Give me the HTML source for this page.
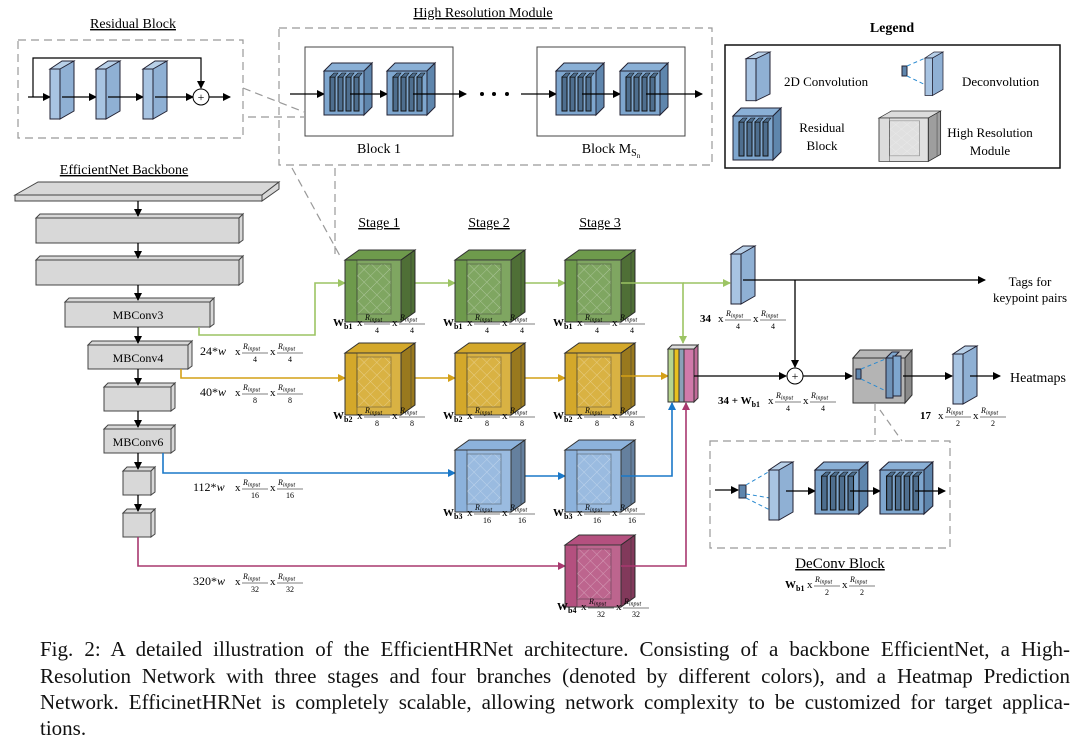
<!DOCTYPE html>
<html><head><meta charset="utf-8"><style>
body{margin:0;background:#fff;width:1080px;height:745px;overflow:hidden;position:relative;font-family:"Liberation Serif",serif}
svg{position:absolute;left:0;top:0}
svg text{font-family:"Liberation Serif",serif}
.cap{position:absolute;left:40px;width:1030px;font-size:21px;line-height:26px;color:#111;white-space:nowrap}
.j{text-align:justify;text-align-last:justify}
.d{font-size:8px;text-anchor:middle}
.b{font-weight:bold;font-size:11px}
</style></head><body>
<svg width="1080" height="640" viewBox="0 0 1080 640">
<defs>
<marker id="ak" markerWidth="8" markerHeight="8" refX="7" refY="4" orient="auto" markerUnits="userSpaceOnUse"><path d="M0,0L8,4L0,8z" fill="#000"/></marker>
<marker id="ag" markerWidth="8" markerHeight="8" refX="7" refY="4" orient="auto" markerUnits="userSpaceOnUse"><path d="M0,0L8,4L0,8z" fill="#9cc463"/></marker>
<marker id="ay" markerWidth="8" markerHeight="8" refX="7" refY="4" orient="auto" markerUnits="userSpaceOnUse"><path d="M0,0L8,4L0,8z" fill="#d4a017"/></marker>
<marker id="ab" markerWidth="8" markerHeight="8" refX="7" refY="4" orient="auto" markerUnits="userSpaceOnUse"><path d="M0,0L8,4L0,8z" fill="#1a78c8"/></marker>
<marker id="ap" markerWidth="8" markerHeight="8" refX="7" refY="4" orient="auto" markerUnits="userSpaceOnUse"><path d="M0,0L8,4L0,8z" fill="#a8386f"/></marker>
<pattern id="hatch" width="9" height="9" patternUnits="userSpaceOnUse" patternTransform="rotate(45)"><path d="M0,0H9M0,0V9" stroke="#fff" stroke-opacity=".35" stroke-width="1"/></pattern>
<g id="cube">
 <polygon points="0,10 14,0 70,0 56,10" fill="currentColor" stroke="#333" stroke-width="1"/>
 <polygon points="56,10 70,0 70,62 56,72" fill="currentColor" stroke="#333" stroke-width="1"/>
 <polygon points="56,10 70,0 70,62 56,72" fill="#000" fill-opacity=".28"/>
 <rect x="0" y="10" width="56" height="62" fill="currentColor" stroke="#333" stroke-width="1"/>
 <rect x="12" y="10" width="44" height="62" fill="#fff" fill-opacity=".12" stroke="#333" stroke-opacity=".5"/>
 <rect x="12" y="14" width="34" height="50" fill="url(#hatch)" stroke="#333" stroke-opacity=".4"/>
 <line x1="66" y1="3" x2="66" y2="64" stroke="#333" stroke-opacity=".5"/>
</g>
<g id="conv">
 <polygon points="0,8 12,0 24,0 12,8" fill="#b8d0e8" stroke="#223" stroke-width="1"/>
 <polygon points="10,8 24,0 24,50 10,58" fill="#8fb0d4" stroke="#223" stroke-width="1"/>
 <rect x="0" y="8" width="10" height="50" fill="#a8c4e2" stroke="#223" stroke-width="1"/>
</g>
<g id="res">
 <polygon points="0,8 8,0 48,0 40,8" fill="#8ab0d6" stroke="#223"/>
 <polygon points="40,8 48,0 48,44 40,52" fill="#5f86ad" stroke="#223"/>
 <rect x="0" y="8" width="40" height="44" fill="#7ea6ce" stroke="#223"/>
 <rect x="6" y="14" width="5" height="34" fill="#4e6e8e" stroke="#111"/>
 <rect x="14" y="14" width="5" height="34" fill="#4e6e8e" stroke="#111"/>
 <rect x="22" y="14" width="5" height="34" fill="#4e6e8e" stroke="#111"/>
 <rect x="30" y="14" width="5" height="34" fill="#4e6e8e" stroke="#111"/>
 <polygon points="6,14 10,10 14,10 11,14" fill="#4e6e8e" stroke="#111" stroke-width=".6"/>
 <polygon points="14,14 18,10 22,10 19,14" fill="#4e6e8e" stroke="#111" stroke-width=".6"/>
 <polygon points="22,14 26,10 30,10 27,14" fill="#4e6e8e" stroke="#111" stroke-width=".6"/>
 <polygon points="30,14 34,10 38,10 35,14" fill="#4e6e8e" stroke="#111" stroke-width=".6"/>
</g>
<g id="rin"><text x="1" y="-3" font-size="8" font-style="italic">R<tspan font-size="6" dy="1.5">input</tspan></text><line x1="0" x2="26" y1="1" y2="1" stroke="#000" stroke-width=".6"/></g>
<g id="f4" font-size="11"><text x="0" y="3">x</text><use href="#rin" x="7"/><text x="20" y="10" class="d">4</text><text x="35" y="3">x</text><use href="#rin" x="42"/><text x="55" y="10" class="d">4</text></g>
<g id="f8" font-size="11"><text x="0" y="3">x</text><use href="#rin" x="7"/><text x="20" y="10" class="d">8</text><text x="35" y="3">x</text><use href="#rin" x="42"/><text x="55" y="10" class="d">8</text></g>
<g id="f16" font-size="11"><text x="0" y="3">x</text><use href="#rin" x="7"/><text x="20" y="10" class="d">16</text><text x="35" y="3">x</text><use href="#rin" x="42"/><text x="55" y="10" class="d">16</text></g>
<g id="f32" font-size="11"><text x="0" y="3">x</text><use href="#rin" x="7"/><text x="20" y="10" class="d">32</text><text x="35" y="3">x</text><use href="#rin" x="42"/><text x="55" y="10" class="d">32</text></g>
<g id="f2" font-size="11"><text x="0" y="3">x</text><use href="#rin" x="7"/><text x="20" y="10" class="d">2</text><text x="35" y="3">x</text><use href="#rin" x="42"/><text x="55" y="10" class="d">2</text></g>
</defs>

<!-- Residual block -->
<text x="133" y="28" font-size="14" text-anchor="middle" text-decoration="underline">Residual Block</text>
<rect x="18" y="40" width="225" height="98" fill="none" stroke="#999" stroke-dasharray="8,5" stroke-width="1.2"/>
<path d="M33,97V58H201V88" fill="none" stroke="#000" stroke-width="1.2" marker-end="url(#ak)"/>
<line x1="28" y1="97" x2="50" y2="97" stroke="#000" stroke-width="1.3" marker-end="url(#ak)"/>
<use href="#conv" x="50" y="61"/>
<line x1="62" y1="97" x2="96" y2="97" stroke="#000" stroke-width="1.3" marker-end="url(#ak)"/>
<use href="#conv" x="96" y="61"/>
<line x1="108" y1="97" x2="143" y2="97" stroke="#000" stroke-width="1.3" marker-end="url(#ak)"/>
<use href="#conv" x="143" y="61"/>
<line x1="155" y1="97" x2="193" y2="97" stroke="#000" stroke-width="1.3" marker-end="url(#ak)"/>
<circle cx="201" cy="97" r="8" fill="#fff" stroke="#000"/><text x="201" y="101" font-size="12" text-anchor="middle">+</text>
<line x1="209" y1="97" x2="230" y2="97" stroke="#000" stroke-width="1.3" marker-end="url(#ak)"/>
<path d="M243,88L304,112M248,117H304" stroke="#999" stroke-dasharray="8,5" stroke-width="1.2"/>

<!-- HR module -->
<text x="483" y="17" font-size="14" text-anchor="middle" text-decoration="underline">High Resolution Module</text>
<rect x="279" y="28" width="433" height="137" fill="none" stroke="#999" stroke-dasharray="8,5" stroke-width="1.2"/>
<rect x="305" y="47" width="148" height="89" fill="#fff" stroke="#444"/>
<rect x="537" y="47" width="148" height="89" fill="#fff" stroke="#444"/>
<text x="379" y="153" font-size="14" text-anchor="middle">Block 1</text>
<text x="611" y="153" font-size="14" text-anchor="middle">Block M<tspan font-size="10" dy="3">S</tspan><tspan font-size="7" dy="2">n</tspan></text>
<line x1="290" y1="94" x2="324" y2="94" stroke="#000" stroke-width="1.3" marker-end="url(#ak)"/>
<use href="#res" x="324" y="63"/>
<line x1="350" y1="94" x2="387" y2="94" stroke="#000" stroke-width="1.3" marker-end="url(#ak)"/>
<use href="#res" x="387" y="63"/>
<line x1="413" y1="94" x2="466" y2="94" stroke="#000" stroke-width="1.3" marker-end="url(#ak)"/>
<circle cx="482" cy="94" r="2" fill="#000"/><circle cx="494" cy="94" r="2" fill="#000"/><circle cx="507" cy="94" r="2" fill="#000"/>
<line x1="521" y1="94" x2="556" y2="94" stroke="#000" stroke-width="1.3" marker-end="url(#ak)"/>
<use href="#res" x="556" y="63"/>
<line x1="582" y1="94" x2="620" y2="94" stroke="#000" stroke-width="1.3" marker-end="url(#ak)"/>
<use href="#res" x="620" y="63"/>
<line x1="646" y1="94" x2="702" y2="94" stroke="#000" stroke-width="1.3" marker-end="url(#ak)"/>
<path d="M292,168L340,256M335,168V255" stroke="#999" stroke-dasharray="8,5" stroke-width="1.2" fill="none"/>

<!-- Legend -->
<text x="892" y="32" font-size="14" font-weight="bold" text-anchor="middle">Legend</text>
<rect x="725" y="45" width="335" height="123" fill="#fff" stroke="#111" stroke-width="1.5"/>
<g transform="translate(746,52) scale(1,0.84)"><use href="#conv"/></g>
<text x="784" y="86" font-size="13">2D Convolution</text>
<rect x="902" y="66" width="5" height="10" fill="#5f86ad" stroke="#223"/>
<path d="M907,66L930,56M907,76L932,88" stroke="#2a8ad0" stroke-dasharray="4,3"/>
<g transform="translate(925,52) scale(0.75,0.75)"><use href="#conv"/></g>
<text x="962" y="86" font-size="13">Deconvolution</text>
<g transform="translate(733,108)"><use href="#res"/></g>
<text x="822" y="132" font-size="13" text-anchor="middle">Residual</text>
<text x="822" y="150" font-size="13" text-anchor="middle">Block</text>
<g transform="translate(879,111) scale(0.88,0.7)" style="color:#dcdcdc"><use href="#cube"/></g>
<text x="990" y="137" font-size="13" text-anchor="middle">High Resolution</text>
<text x="990" y="155" font-size="13" text-anchor="middle">Module</text>

<!-- Backbone -->
<text x="124" y="174" font-size="14" text-anchor="middle" text-decoration="underline">EfficientNet Backbone</text>
<g fill="#d8d8d8" stroke="#444" stroke-width="1">
<polygon points="15,195 38,182 279,182 262,195"/>
<polygon points="262,195 279,182 279,189 262,201"/>
<rect x="15" y="195" width="247" height="6"/>
<polygon points="36,218 40,214 243,214 239,218"/><rect x="36" y="218" width="203" height="25"/><polygon points="239,218 243,214 243,240 239,243"/>
<polygon points="36,260 40,256 243,256 239,260"/><rect x="36" y="260" width="203" height="25"/><polygon points="239,260 243,256 243,282 239,285"/>
<polygon points="65,302 69,298 214,298 210,302"/><rect x="65" y="302" width="145" height="25"/><polygon points="210,302 214,298 214,324 210,327"/>
<polygon points="88,345 92,341 192,341 188,345"/><rect x="88" y="345" width="100" height="24"/><polygon points="188,345 192,341 192,366 188,369"/>
<polygon points="104,387 108,383 175,383 171,387"/><rect x="104" y="387" width="67" height="24"/><polygon points="171,387 175,383 175,408 171,411"/>
<polygon points="104,429 108,425 175,425 171,429"/><rect x="104" y="429" width="67" height="24"/><polygon points="171,429 175,425 175,450 171,453"/>
<polygon points="123,471 127,467 155,467 151,471"/><rect x="123" y="471" width="28" height="24"/><polygon points="151,471 155,467 155,492 151,495"/>
<polygon points="123,513 127,509 155,509 151,513"/><rect x="123" y="513" width="28" height="24"/><polygon points="151,513 155,509 155,534 151,537"/>
</g>
<text x="138" y="319" font-size="12" text-anchor="middle">MBConv3</text>
<text x="138" y="362" font-size="12" text-anchor="middle">MBConv4</text>
<text x="138" y="446" font-size="12" text-anchor="middle">MBConv6</text>
<g stroke="#000" stroke-width="1.3" marker-end="url(#ak)">
<line x1="138" y1="201" x2="138" y2="216"/><line x1="138" y1="243" x2="138" y2="258"/><line x1="138" y1="285" x2="138" y2="300"/>
<line x1="138" y1="327" x2="138" y2="343"/><line x1="138" y1="369" x2="138" y2="385"/><line x1="138" y1="411" x2="138" y2="427"/>
<line x1="138" y1="453" x2="138" y2="469"/><line x1="138" y1="495" x2="138" y2="511"/>
</g>

<!-- branch lines -->
<path d="M199,327V335H315V283H345" fill="none" stroke="#9cc463" stroke-width="1.6" marker-end="url(#ag)"/>
<path d="M181,369V378H345" fill="none" stroke="#d4a017" stroke-width="1.6" marker-end="url(#ay)"/>
<path d="M163,453V473H455" fill="none" stroke="#1a78c8" stroke-width="1.6" marker-end="url(#ab)"/>
<path d="M138,537V566H565" fill="none" stroke="#a8386f" stroke-width="1.6" marker-end="url(#ap)"/>
<g font-size="12"><text x="200" y="355">24*<tspan font-style="italic">w</tspan></text><use href="#f4" x="235" y="352"/></g>
<g font-size="12"><text x="200" y="396">40*<tspan font-style="italic">w</tspan></text><use href="#f8" x="235" y="393"/></g>
<g font-size="12"><text x="193" y="491">112*<tspan font-style="italic">w</tspan></text><use href="#f16" x="235" y="488"/></g>
<g font-size="12"><text x="193" y="585">320*<tspan font-style="italic">w</tspan></text><use href="#f32" x="235" y="582"/></g>

<!-- stages -->
<text x="379" y="227" font-size="14" text-anchor="middle" text-decoration="underline">Stage 1</text>
<text x="489" y="227" font-size="14" text-anchor="middle" text-decoration="underline">Stage 2</text>
<text x="600" y="227" font-size="14" text-anchor="middle" text-decoration="underline">Stage 3</text>

<line x1="412" y1="283" x2="455" y2="283" stroke="#9cc463" stroke-width="1.6" marker-end="url(#ag)"/>
<line x1="522" y1="283" x2="565" y2="283" stroke="#9cc463" stroke-width="1.6" marker-end="url(#ag)"/>
<line x1="412" y1="378" x2="455" y2="378" stroke="#d4a017" stroke-width="1.6" marker-end="url(#ay)"/>
<line x1="522" y1="378" x2="565" y2="378" stroke="#d4a017" stroke-width="1.6" marker-end="url(#ay)"/>
<line x1="522" y1="476" x2="565" y2="476" stroke="#1a78c8" stroke-width="1.6" marker-end="url(#ab)"/>

<g style="color:#6e9a4c"><use href="#cube" x="345" y="250"/><use href="#cube" x="455" y="250"/><use href="#cube" x="565" y="250"/></g>
<g style="color:#d4a82a"><use href="#cube" x="345" y="343"/><use href="#cube" x="455" y="343"/><use href="#cube" x="565" y="343"/></g>
<g style="color:#8cb2dc"><use href="#cube" x="455" y="440"/><use href="#cube" x="565" y="440"/></g>
<g style="color:#b4507f"><use href="#cube" x="565" y="535"/></g>

<path d="M621,283H683V343" fill="none" stroke="#9cc463" stroke-width="1.6" marker-end="url(#ag)"/>
<path d="M683,283H730" fill="none" stroke="#9cc463" stroke-width="1.6" marker-end="url(#ag)"/>
<path d="M621,376H668" fill="none" stroke="#d4a017" stroke-width="1.6" marker-end="url(#ay)"/>
<path d="M621,476H672V403" fill="none" stroke="#1a78c8" stroke-width="1.6" marker-end="url(#ab)"/>
<path d="M621,566H686V403" fill="none" stroke="#a8386f" stroke-width="1.6" marker-end="url(#ap)"/>

<text x="333" y="326" class="b">W<tspan font-size="8" dy="3">b1</tspan></text><use href="#f4" x="357" y="323"/>
<text x="443" y="326" class="b">W<tspan font-size="8" dy="3">b1</tspan></text><use href="#f4" x="467" y="323"/>
<text x="553" y="326" class="b">W<tspan font-size="8" dy="3">b1</tspan></text><use href="#f4" x="577" y="323"/>
<text x="333" y="419" class="b">W<tspan font-size="8" dy="3">b2</tspan></text><use href="#f8" x="357" y="416"/>
<text x="443" y="419" class="b">W<tspan font-size="8" dy="3">b2</tspan></text><use href="#f8" x="467" y="416"/>
<text x="553" y="419" class="b">W<tspan font-size="8" dy="3">b2</tspan></text><use href="#f8" x="577" y="416"/>
<text x="443" y="516" class="b">W<tspan font-size="8" dy="3">b3</tspan></text><use href="#f16" x="467" y="513"/>
<text x="553" y="516" class="b">W<tspan font-size="8" dy="3">b3</tspan></text><use href="#f16" x="577" y="513"/>
<text x="557" y="610" class="b">W<tspan font-size="8" dy="3">b4</tspan></text><use href="#f32" x="581" y="607"/>

<!-- concat -->
<polygon points="668,349 672,345 698,345 694,349" fill="#ddd" stroke="#333"/>
<polygon points="694,349 698,345 698,398 694,402" fill="#c06a98" stroke="#333"/>
<rect x="668" y="349" width="6" height="53" fill="#b6d48e" stroke="#333"/>
<rect x="674" y="349" width="5" height="53" fill="#e8c020" stroke="#333"/>
<rect x="679" y="349" width="5" height="53" fill="#8aa0b8" stroke="#333"/>
<rect x="684" y="349" width="10" height="53" fill="#d07aaa" stroke="#333"/>

<!-- outputs -->
<use href="#conv" x="731" y="246"/>
<path d="M743,280H985" stroke="#000" stroke-width="1.3" marker-end="url(#ak)"/>
<path d="M795,280V367" stroke="#000" stroke-width="1.3" marker-end="url(#ak)"/>
<text x="1030" y="286" font-size="13" text-anchor="middle">Tags for</text>
<text x="1030" y="302" font-size="13" text-anchor="middle">keypoint pairs</text>
<text x="700" y="322" class="b">34</text><use href="#f4" x="718" y="319"/>
<path d="M694,376H786" stroke="#000" stroke-width="1.3" marker-end="url(#ak)"/>
<circle cx="795" cy="376" r="8" fill="#fff" stroke="#000"/><text x="795" y="380" font-size="12" text-anchor="middle">+</text>
<path d="M803,376H852" stroke="#000" stroke-width="1.3" marker-end="url(#ak)"/>
<text x="718" y="404" class="b">34 + W<tspan font-size="8" dy="3">b1</tspan></text><use href="#f4" x="768" y="401"/>
<!-- grey cube -->
<polygon points="853,358 860,350 912,350 905,358" fill="#b8b8b8" stroke="#333"/>
<polygon points="905,358 912,350 912,395 905,403" fill="#8a8a8a" stroke="#333"/>
<rect x="853" y="358" width="52" height="45" fill="#b4b4b4" stroke="#333"/>
<rect x="856" y="369" width="5" height="10" fill="#5f86ad" stroke="#223"/>
<path d="M861,369L888,358M861,379L888,392" stroke="#2a8ad0" stroke-dasharray="4,3"/>
<polygon points="886,358 892,352 899,352 893,358" fill="#7ea6ce" stroke="#223"/>
<rect x="886" y="358" width="7" height="40" fill="#6f93b8" stroke="#223"/>
<rect x="893" y="356" width="8" height="40" fill="#7ea6ce" stroke="#223"/>
<path d="M903,376H952" stroke="#000" stroke-width="1.3" marker-end="url(#ak)"/>
<use href="#conv" x="953" y="346"/>
<path d="M970,376H1000" stroke="#000" stroke-width="1.3" marker-end="url(#ak)"/>
<text x="1010" y="382" font-size="14">Heatmaps</text>
<text x="920" y="419" class="b">17</text><use href="#f2" x="938" y="416"/>

<!-- deconv block -->
<path d="M875,404V441M880,410L902,441" stroke="#999" stroke-dasharray="7,5" stroke-width="1.2" fill="none"/>
<rect x="710" y="441" width="240" height="107" fill="none" stroke="#999" stroke-dasharray="8,5" stroke-width="1.2"/>
<path d="M715,490H738" stroke="#000" stroke-width="1.3" marker-end="url(#ak)"/>
<rect x="739" y="485" width="7" height="13" fill="#5f86ad" stroke="#223"/>
<path d="M746,485L782,464M746,494L782,500M746,498L782,516" stroke="#2a8ad0" stroke-dasharray="4,3"/>
<use href="#conv" x="769" y="462"/>
<path d="M786,491H815" stroke="#000" stroke-width="1.3" marker-end="url(#ak)"/>
<g transform="translate(815,462) scale(1.1,1)"><use href="#res"/></g>
<path d="M850,491H880" stroke="#000" stroke-width="1.3" marker-end="url(#ak)"/>
<g transform="translate(880,462) scale(1.1,1)"><use href="#res"/></g>
<path d="M915,491H945" stroke="#000" stroke-width="1.3" marker-end="url(#ak)"/>
<text x="840" y="568" font-size="15" text-anchor="middle" text-decoration="underline">DeConv Block</text>
<text x="785" y="588" class="b">W<tspan font-size="8" dy="3">b1</tspan></text><use href="#f2" x="807" y="585"/>
</svg>
<div class="cap j" style="top:636px">Fig. 2: A detailed illustration of the EfficientHRNet architecture. Consisting of a backbone EfficientNet, a High-</div>
<div class="cap j" style="top:663px">Resolution Network with three stages and four branches (denoted by different colors), and a Heatmap Prediction</div>
<div class="cap j" style="top:689px">Network. EfficinetHRNet is completely scalable, allowing network complexity to be customized for target applica-</div>
<div class="cap" style="top:715px">tions.</div>
</body></html>
